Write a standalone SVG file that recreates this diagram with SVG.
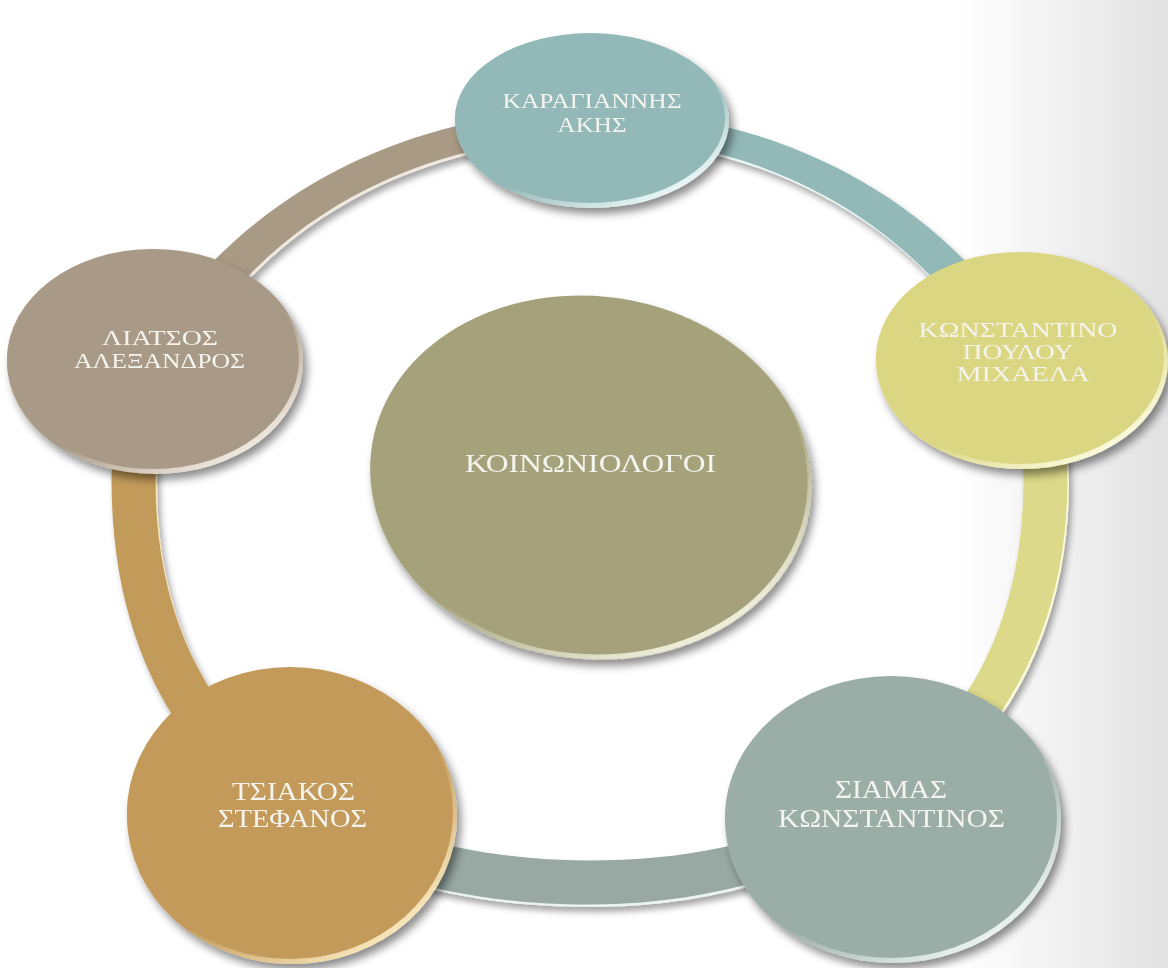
<svg xmlns="http://www.w3.org/2000/svg" width="1168" height="968" viewBox="0 0 1168 968">
  <defs>
    <linearGradient id="bg" x1="0" y1="0" x2="1" y2="0">
      <stop offset="0" stop-color="#ffffff"/>
      <stop offset="0.82" stop-color="#ffffff"/>
      <stop offset="1" stop-color="#e2e2e2"/>
    </linearGradient>
    <filter id="shadow" x="-20%" y="-20%" width="140%" height="140%">
      <feDropShadow dx="4" dy="6" stdDeviation="4" flood-color="#000000" flood-opacity="0.45"/>
    </filter>
    <filter id="rshadow" x="-10%" y="-10%" width="120%" height="120%">
      <feDropShadow dx="3" dy="5" stdDeviation="3" flood-color="#000000" flood-opacity="0.35"/>
    </filter>
    <path id="ring" fill-rule="evenodd" d="M113,482 C113,319 304,113 591,113 C878,113 1069,319 1069,482 C1069,760 845,907 591,907 C328,907 113,780 113,482 Z M157,482 C157,748 352,863 591,863 C830,863 1025,748 1025,482 C1025,328 851,140 591,140 C331,140 157,328 157,482 Z"/>
    <clipPath id="cTL"><polygon points="591,500 -1153,-52 -1153,-1000 591,-1000"/></clipPath>
    <clipPath id="cTR"><polygon points="591,500 591,-1000 2315,-1000 2315,-56"/></clipPath>
    <clipPath id="cR"><polygon points="591,500 2315,-56 2315,1780 1799,1780"/></clipPath>
    <clipPath id="cB"><polygon points="591,500 1799,1780 -605,1760"/></clipPath>
    <clipPath id="cL"><polygon points="591,500 -605,1760 -1153,1760 -1153,-52"/></clipPath>
    <linearGradient id="rimKar" x1="0.2" y1="0.2" x2="0.85" y2="1"><stop offset="0.5" stop-color="#93b8b8"/><stop offset="0.9" stop-color="#eaf7f7"/><stop offset="1" stop-color="#b7d0d0"/></linearGradient>
    <linearGradient id="rimKon" x1="0.2" y1="0.2" x2="0.85" y2="1"><stop offset="0.5" stop-color="#dbd682"/><stop offset="0.9" stop-color="#fbfadc"/><stop offset="1" stop-color="#e6e2a6"/></linearGradient>
    <linearGradient id="rimLia" x1="0.2" y1="0.2" x2="0.85" y2="1"><stop offset="0.5" stop-color="#a99a87"/><stop offset="0.9" stop-color="#efe9df"/><stop offset="1" stop-color="#c4b8a8"/></linearGradient>
    <linearGradient id="rimCen" x1="0.2" y1="0.2" x2="0.85" y2="1"><stop offset="0.5" stop-color="#a4a17b"/><stop offset="0.9" stop-color="#f1f0dc"/><stop offset="1" stop-color="#c2c09e"/></linearGradient>
    <linearGradient id="rimTsi" x1="0.2" y1="0.2" x2="0.85" y2="1"><stop offset="0.5" stop-color="#c39a5a"/><stop offset="0.9" stop-color="#f8e6bb"/><stop offset="1" stop-color="#d5b47e"/></linearGradient>
    <linearGradient id="rimSia" x1="0.2" y1="0.2" x2="0.85" y2="1"><stop offset="0.5" stop-color="#9bada7"/><stop offset="0.9" stop-color="#eaf3f0"/><stop offset="1" stop-color="#bccac5"/></linearGradient>
  </defs>
  <style>
    .lbl { font-family: "Liberation Serif", "Times New Roman", serif; fill: #f4f4ef; text-anchor: middle; }
  </style>

  <rect x="0" y="0" width="1168" height="968" fill="url(#bg)"/>

  <g id="connectors" filter="url(#rshadow)">
    <g clip-path="url(#cTL)">
      <use href="#ring" fill="#efe9df"/>
      <use href="#ring" fill="#a99a86" transform="translate(-1.5,-2.5)"/>
    </g>
    <g clip-path="url(#cTR)">
      <use href="#ring" fill="#eaf7f7"/>
      <use href="#ring" fill="#93b8b8" transform="translate(-1.5,-2.5)"/>
    </g>
    <g clip-path="url(#cR)">
      <use href="#ring" fill="#fbfadc"/>
      <use href="#ring" fill="#dcd98a" transform="translate(-1.5,-2.5)"/>
    </g>
    <g clip-path="url(#cB)">
      <use href="#ring" fill="#eaf3f0"/>
      <use href="#ring" fill="#98a8a2" transform="translate(-1.5,-2.5)"/>
    </g>
    <g clip-path="url(#cL)">
      <use href="#ring" fill="#f8e6bb"/>
      <use href="#ring" fill="#c29b5a" transform="translate(-1.5,-2.5)"/>
    </g>
  </g>

  <g id="node-karagiannis">
    <ellipse cx="592" cy="121" rx="137" ry="87" fill="url(#rimKar)" filter="url(#shadow)"/>
    <ellipse cx="590" cy="118" rx="135" ry="85" fill="#93b8b8"/>
    <text class="lbl" font-size="20" x="592" y="108" textLength="179" lengthAdjust="spacingAndGlyphs">ΚΑΡΑΓΙΑΝΝΗΣ</text>
    <text class="lbl" font-size="20" x="592" y="132" textLength="69" lengthAdjust="spacingAndGlyphs">ΑΚΗΣ</text>
  </g>

  <g id="node-konstantinopoulou">
    <ellipse cx="1022" cy="361" rx="146" ry="108" fill="url(#rimKon)" filter="url(#shadow)"/>
    <ellipse cx="1020" cy="358" rx="144" ry="106" fill="#dbd682"/>
    <text class="lbl" font-size="21" x="1018" y="337" textLength="199" lengthAdjust="spacingAndGlyphs">ΚΩΝΣΤΑΝΤΙΝΟ</text>
    <text class="lbl" font-size="21" x="1018" y="359" textLength="111" lengthAdjust="spacingAndGlyphs">ΠΟΥΛΟΥ</text>
    <text class="lbl" font-size="21" x="1023" y="381" textLength="133" lengthAdjust="spacingAndGlyphs">ΜΙΧΑΕΛΑ</text>
  </g>

  <g id="node-liatsos">
    <ellipse cx="155" cy="362" rx="148" ry="112" fill="url(#rimLia)" filter="url(#shadow)"/>
    <ellipse cx="153" cy="359" rx="146" ry="110" fill="#a99a87"/>
    <text class="lbl" font-size="20" x="160" y="345" textLength="116" lengthAdjust="spacingAndGlyphs">ΛΙΑΤΣΟΣ</text>
    <text class="lbl" font-size="20" x="159.5" y="368" textLength="171" lengthAdjust="spacingAndGlyphs">ΑΛΕΞΑΝΔΡΟΣ</text>
  </g>

  <g id="node-center">
    <ellipse cx="591" cy="478" rx="221" ry="181" transform="rotate(6 591 478)" fill="url(#rimCen)" filter="url(#shadow)"/>
    <ellipse cx="589" cy="475" rx="219" ry="179" transform="rotate(6 589 475)" fill="#a4a17b"/>
    <text class="lbl" font-size="25" x="590.5" y="472" textLength="251" lengthAdjust="spacingAndGlyphs">ΚΟΙΝΩΝΙΟΛΟΓΟΙ</text>
  </g>

  <g id="node-tsiakos">
    <ellipse cx="292" cy="816" rx="165" ry="148" fill="url(#rimTsi)" filter="url(#shadow)"/>
    <ellipse cx="290" cy="813" rx="163" ry="146" fill="#c39a5a"/>
    <text class="lbl" font-size="26" x="293.5" y="800" textLength="123" lengthAdjust="spacingAndGlyphs">ΤΣΙΑΚΟΣ</text>
    <text class="lbl" font-size="26" x="292.5" y="827" textLength="149" lengthAdjust="spacingAndGlyphs">ΣΤΕΦΑΝΟΣ</text>
  </g>

  <g id="node-siamas">
    <ellipse cx="893" cy="820" rx="168" ry="143" fill="url(#rimSia)" filter="url(#shadow)"/>
    <ellipse cx="891" cy="817" rx="166" ry="141" fill="#9bada7"/>
    <text class="lbl" font-size="25" x="891" y="798" textLength="112" lengthAdjust="spacingAndGlyphs">ΣΙΑΜΑΣ</text>
    <text class="lbl" font-size="25" x="891.5" y="827" textLength="227" lengthAdjust="spacingAndGlyphs">ΚΩΝΣΤΑΝΤΙΝΟΣ</text>
  </g>
</svg>
